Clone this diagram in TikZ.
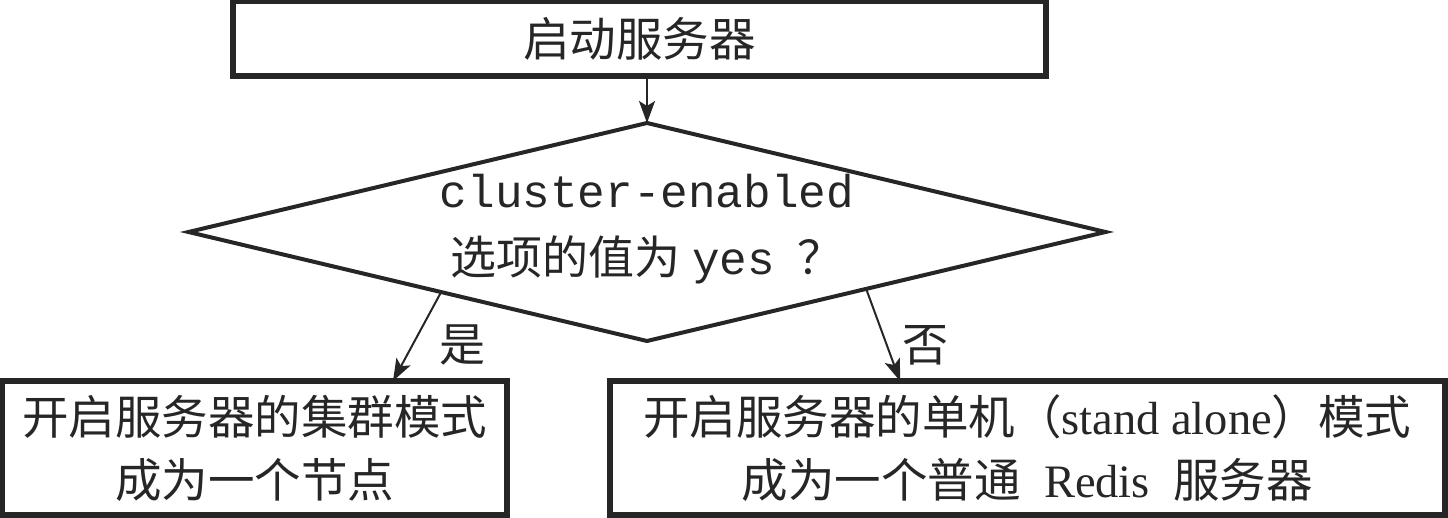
\documentclass[tikz,border=0pt]{standalone}
\usepackage{fontspec}
\setmainfont{Liberation Serif}
\setmonofont{Liberation Mono}
\newfontfamily\cjk{Noto Sans CJK SC}
\usetikzlibrary{shapes.geometric,arrows.meta,calc}
\definecolor{ink}{HTML}{262626}
\begin{document}
\begin{tikzpicture}[x=1pt,y=-1pt,
  box/.style={draw=ink, line width=6pt, rectangle, inner sep=0pt, outer sep=0pt,
    align=center, text=ink, font=\fontsize{46.5}{63}\selectfont},
  decision/.style={draw=ink, line width=4pt, diamond, inner sep=0pt, outer sep=0pt,
    minimum width=917pt, minimum height=218pt},
  txt/.style={text=ink, align=center, inner sep=0pt, font=\fontsize{46}{67}\selectfont},
  arr/.style={draw=ink, line width=2pt, -{Stealth[length=22pt,width=16pt,inset=5pt]}}]
\useasboundingbox (0,0) rectangle (1448,518);
\node[box, minimum width=813pt, minimum height=75pt] (top) at (639.5,39) {\cjk 启动服务器};
\node[decision] (d) at (647,232) {};
\node[txt] (dt) at (647,229) {\ttfamily cluster-enabled\\{\cjk 选项的值为} {\ttfamily yes}\hspace{22pt}{\cjk ？}};
\node[box, minimum width=505pt, minimum height=134pt] (lb) at (254.5,448)
  {{\cjk 开启服务器的集群模式}\\{\cjk 成为一个节点}};
\node[box, minimum width=835.5pt, minimum height=134pt] (rb) at (1027.25,448)
  {{\cjk 开启服务器的单机（}stand alone{\cjk ）模式}\\{\cjk 成为一个普通}\ \ Redis\ \ {\cjk 服务器}};
\draw[arr] (d.north |- top.south) -- (d.north);
\draw[arr] ($(d.west)!0.551!(d.south)$) -- (lb.north -| 393,0);
\draw[arr] ($(d.east)!0.522!(d.south)$) -- (rb.north -| 900,0);
\node[txt] (yes) at (462,345) {\cjk 是};
\node[txt] (no) at (925,345) {\cjk 否};
\end{tikzpicture}
\end{document}
